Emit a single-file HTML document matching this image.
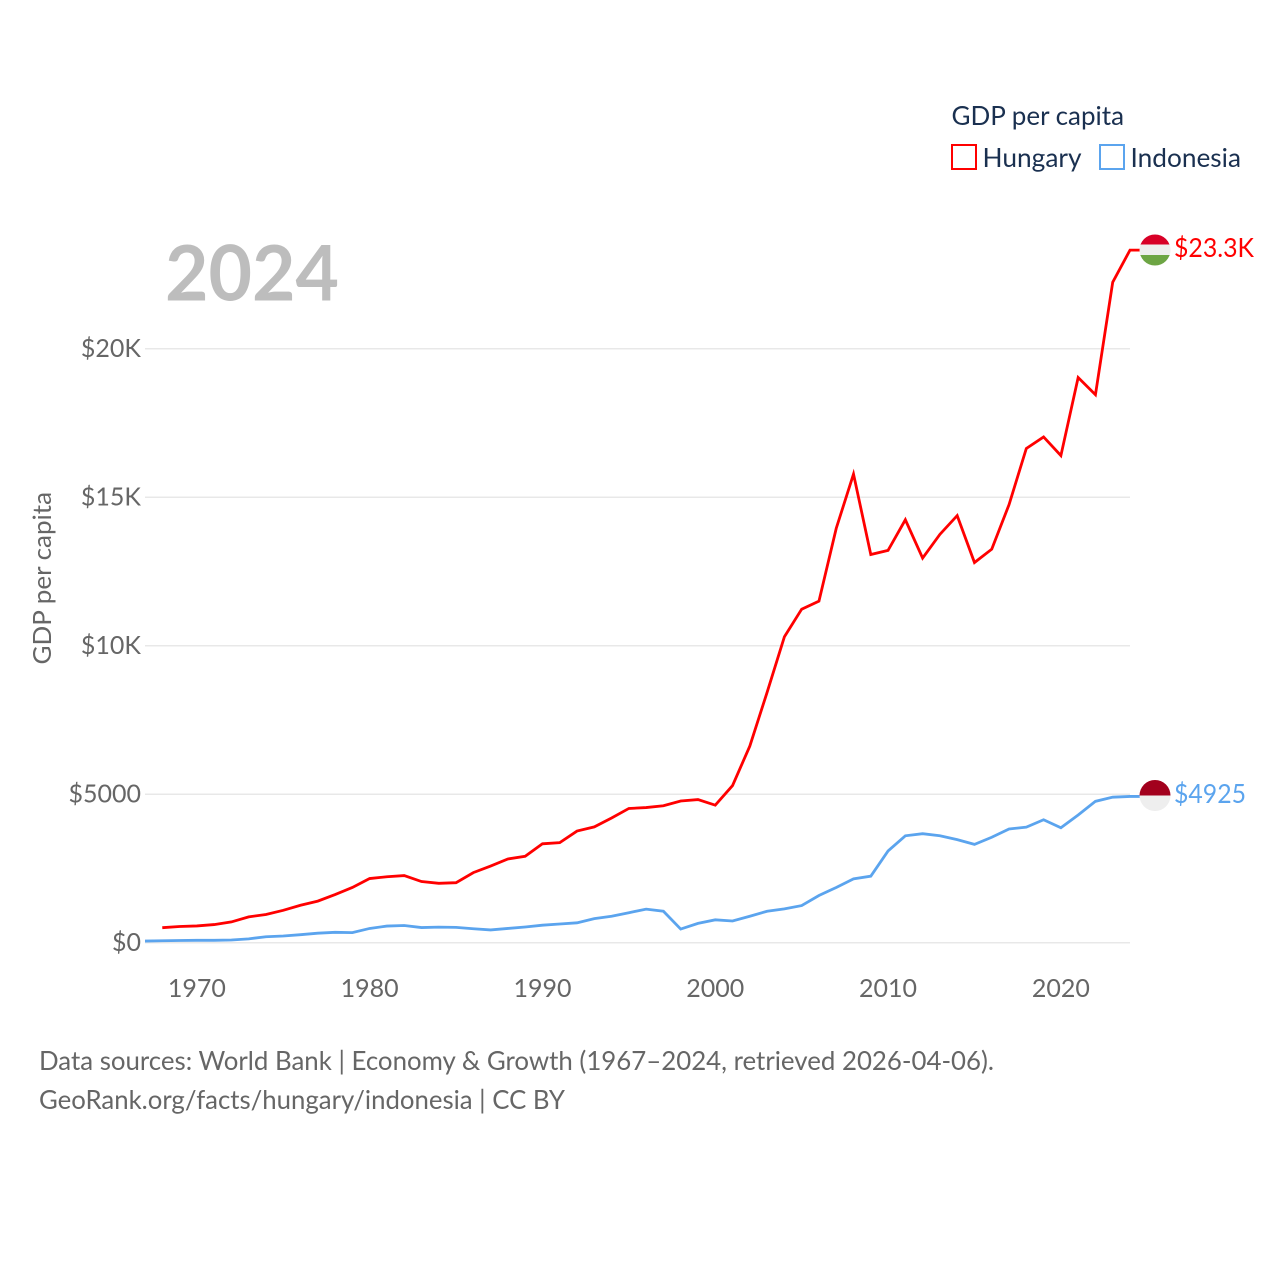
<!DOCTYPE html>
<html lang="en">
<head>
<meta charset="utf-8">
<title>GDP per capita: Hungary vs Indonesia</title>
<style>
  html, body { margin: 0; padding: 0; background: #fff; }
  svg { display: block; }
  text { font-family: "Lato", "Carlito", "Liberation Sans", sans-serif; }
</style>
</head>
<body>
<svg id="chart" xmlns="http://www.w3.org/2000/svg" width="1280" height="1280" viewBox="0 0 1280 1280">
  <rect width="1280" height="1280" fill="#ffffff"/>

  <text x="951.5" y="125" font-size="26" fill="#1a3050" textLength="172.5" lengthAdjust="spacingAndGlyphs">GDP per capita</text>
  <rect x="952" y="145" width="24" height="24" fill="#ffffff" stroke="#ff0000" stroke-width="2"/>
  <text x="982.5" y="167" font-size="26" fill="#1a3050" textLength="99" lengthAdjust="spacingAndGlyphs">Hungary</text>
  <rect x="1100" y="145" width="24" height="24" fill="#ffffff" stroke="#5ba4ee" stroke-width="2"/>
  <text x="1130.5" y="167" font-size="26" fill="#1a3050" textLength="110.5" lengthAdjust="spacingAndGlyphs">Indonesia</text>

  <text x="165" y="300.5" font-size="77" font-weight="700" fill="#bdbdbd" textLength="174" lengthAdjust="spacingAndGlyphs">2024</text>

  <text transform="translate(51,664.5) rotate(-90)" font-size="25" fill="#666666" textLength="172.5" lengthAdjust="spacingAndGlyphs">GDP per capita</text>

  <g id="grid"></g>
  <g id="y-ticks"></g>
  <g id="x-ticks"></g>
  <g id="lines"></g>

  <defs>
    <clipPath id="clip-hu"><circle cx="1155" cy="250" r="15.5"/></clipPath>
    <clipPath id="clip-id"><circle cx="1155" cy="795.5" r="15.5"/></clipPath>
  </defs>
  <g id="flag-hungary" clip-path="url(#clip-hu)">
    <rect x="1139" y="234" width="32" height="11" fill="#d80027"/>
    <rect x="1139" y="244.5" width="32" height="11" fill="#eeeeee"/>
    <rect x="1139" y="255" width="32" height="11" fill="#6da544"/>
  </g>
  <g id="flag-indonesia" clip-path="url(#clip-id)">
    <rect x="1139" y="779" width="32" height="16.5" fill="#a2001d"/>
    <rect x="1139" y="795.5" width="32" height="17" fill="#eeeeee"/>
  </g>
  <text id="end-label-hungary" x="1174" y="257" font-size="26" fill="#ff0000" textLength="80" lengthAdjust="spacingAndGlyphs">$23.3K</text>
  <text id="end-label-indonesia" x="1174" y="803" font-size="26" fill="#5ba4ee" textLength="72" lengthAdjust="spacingAndGlyphs">$4925</text>

  <text x="39" y="1070" font-size="26" fill="#666666" textLength="955" lengthAdjust="spacingAndGlyphs">Data sources: World Bank | Economy &amp; Growth (1967–2024, retrieved 2026-04-06).</text>
  <text x="39" y="1109" font-size="26" fill="#666666" textLength="526" lengthAdjust="spacingAndGlyphs">GeoRank.org/facts/hungary/indonesia | CC BY</text>
</svg>
<script>
const hungaryStartYear = 1968;
const hungaryValues = [505,545,565,610,700,870,950,1090,1260,1400,1620,1860,2160,2220,2260,2060,2000,2020,2360,2580,2820,2910,3330,3370,3760,3900,4200,4520,4550,4610,4770,4820,4630,5290,6620,8430,10300,11230,11500,13950,15780,13070,13210,14240,12950,13750,14380,12800,13250,14750,16640,17030,16400,19030,18450,22240,23320];
const indonesiaStartYear = 1967;
const indonesiaValues = [55,65,75,80,80,90,130,200,225,270,320,350,340,480,560,580,510,525,515,470,430,480,530,590,630,670,810,890,1010,1130,1060,460,650,770,730,890,1060,1140,1250,1590,1860,2150,2240,3090,3600,3670,3600,3470,3310,3550,3830,3890,4140,3870,4300,4760,4900,4925];
const yTickValues = [0,5000,10000,15000,20000];
const yTickLabels = ["$0","$5000","$10K","$15K","$20K"];
const xTickYears = [1970,1980,1990,2000,2010,2020];

const NS = "http://www.w3.org/2000/svg";
const xScale = year => 145 + (year - 1967) * (985 / 57);
const yScale = value => 942.7 - value * 0.0297;

function el(tag, parent) {
  const node = document.createElementNS(NS, tag);
  document.getElementById(parent).appendChild(node);
  return node;
}

yTickValues.forEach((value, i) => {
  const line = el("line", "grid");
  
  
  line.setAttribute("x1", 145);
  line.setAttribute("x2", 1130);
  line.setAttribute("y1", yScale(value));
  line.setAttribute("y2", yScale(value));
  line.setAttribute("stroke", "#e8e8e8");
  line.setAttribute("stroke-width", 1.5);

  const label = el("text", "y-ticks");
  
  
  label.setAttribute("x", 141);
  label.setAttribute("y", yScale(value) + 8.2);
  label.setAttribute("text-anchor", "end");
  label.setAttribute("font-size", 25);
  label.setAttribute("fill", "#666666");
  label.textContent = yTickLabels[i];
});

xTickYears.forEach(year => {
  const label = el("text", "x-ticks");
  
  
  label.setAttribute("x", xScale(year));
  label.setAttribute("y", 997);
  label.setAttribute("text-anchor", "middle");
  label.setAttribute("font-size", 25);
  label.setAttribute("fill", "#666666");
  label.textContent = year;
});

function seriesPoints(values, startYear) {
  const pts = values.map((v, i) => xScale(startYear + i).toFixed(2) + "," + yScale(v).toFixed(2));
  pts.push("1140," + yScale(values[values.length - 1]).toFixed(2));
  return pts.join(" ");
}

const hungaryLine = el("polyline", "lines");


hungaryLine.setAttribute("points", seriesPoints(hungaryValues, hungaryStartYear));
hungaryLine.setAttribute("fill", "none");
hungaryLine.setAttribute("stroke", "#ff0000");
hungaryLine.setAttribute("stroke-width", 2.8);

const indonesiaLine = el("polyline", "lines");


indonesiaLine.setAttribute("points", seriesPoints(indonesiaValues, indonesiaStartYear));
indonesiaLine.setAttribute("fill", "none");
indonesiaLine.setAttribute("stroke", "#5ba4ee");
indonesiaLine.setAttribute("stroke-width", 2.8);
</script>
</body>
</html>
